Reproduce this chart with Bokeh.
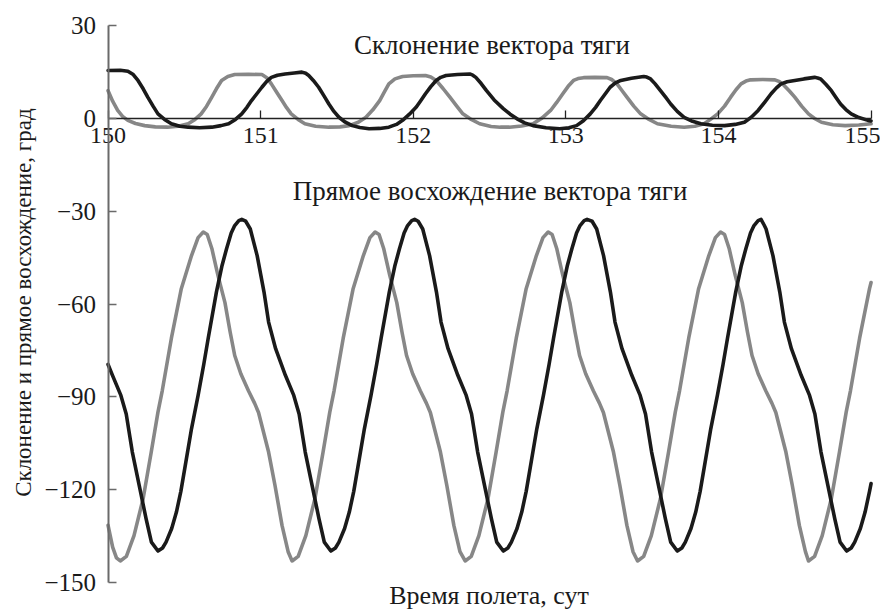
import math
from bokeh.plotting import figure
from bokeh.models import LinearAxis, FixedTicker, Label, Range1d
from bokeh.embed import file_html
from bokeh.resources import INLINE

# ---------------- data ----------------
x_ticks = [150, 151, 152, 153, 154, 155]
y_ticks = [30, 0, -30, -60, -90, -120, -150]
y_tick_labels = ["30", "0", "\u221230", "\u221260", "\u221290", "\u2212120", "\u2212150"]

x_title = "Время полета, сут"
y_title = "Склонение и прямое восхождение, град"
note_dec = "Склонение вектора тяги"
note_ra = "Прямое восхождение вектора тяги"

# Declination, black
dec_black_x = [150.0, 150.08, 150.13, 150.165, 150.196, 150.23, 150.26, 150.295, 150.327, 150.37, 150.415, 150.47,
               150.525, 150.6, 150.68, 150.74, 150.79, 150.835, 150.876, 150.91, 150.94, 150.975, 151.008, 151.04,
               151.07, 151.11, 151.16, 151.22, 151.27, 151.295, 151.315, 151.345, 151.38, 151.415, 151.447, 151.48,
               151.513, 151.555, 151.6, 151.65, 151.71, 151.78, 151.84, 151.89, 151.93, 151.975, 152.02, 152.05,
               152.08, 152.115, 152.15, 152.18, 152.215, 152.29, 152.37, 152.39, 152.41, 152.445, 152.48, 152.53,
               152.59, 152.635, 152.68, 152.73, 152.785, 152.87, 152.96, 153.02, 153.07, 153.115, 153.16, 153.195,
               153.226, 153.26, 153.29, 153.325, 153.36, 153.43, 153.51, 153.53, 153.555, 153.585, 153.62, 153.655,
               153.687, 153.73, 153.775, 153.83, 153.885, 153.96, 154.04, 154.11, 154.17, 154.215, 154.26, 154.305,
               154.345, 154.38, 154.41, 154.45, 154.5, 154.56, 154.63, 154.65, 154.67, 154.705, 154.74, 154.77,
               154.8, 154.835, 154.87, 154.92, 154.98, 155.0]
dec_black_y = [15.5, 15.6, 15.3, 14.2, 12.3, 9.6, 6.9, 4.0, 1.5, -0.3, -1.7, -2.5,
               -2.8, -3.0, -2.8, -2.3, -1.7, -0.3, 1.5, 3.6, 5.8, 8.0, 10.1, 12.0,
               13.3, 14.0, 14.4, 14.7, 15.0, 14.6, 13.9, 12.3, 10.1, 7.3, 4.7, 2.3,
               0.4, -1.2, -2.3, -2.9, -3.3, -3.2, -2.8, -1.9, -0.6, 1.4, 3.7, 5.8,
               8.0, 10.3, 12.3, 13.3, 13.9, 14.2, 14.4, 14.0, 13.3, 11.3, 9.0, 6.0,
               3.2, 1.4, -0.1, -1.4, -2.3, -3.0, -3.3, -3.0, -2.3, -0.7, 1.5, 3.6,
               5.8, 8.1, 10.1, 11.5, 12.3, 13.0, 13.6, 13.4, 12.8, 11.2, 9.0, 6.8,
               4.7, 2.3, 0.4, -0.9, -1.7, -2.2, -2.3, -1.9, -1.2, 0.4, 2.6, 5.4,
               8.0, 9.9, 11.2, 11.9, 12.3, 12.8, 13.3, 13.1, 12.8, 11.0, 9.0, 6.8,
               4.7, 2.9, 1.5, 0.3, -0.6, -0.8]

# Declination, grey
dec_gray_x = [150.0, 150.03, 150.063, 150.095, 150.13, 150.18, 150.24, 150.31, 150.39, 150.46, 150.525, 150.57,
              150.61, 150.645, 150.68, 150.71, 150.744, 150.785, 150.83, 150.92, 151.008, 151.04, 151.07, 151.105,
              151.14, 151.17, 151.2, 151.245, 151.29, 151.36, 151.447, 151.52, 151.58, 151.64, 151.69, 151.735,
              151.78, 151.81, 151.84, 151.88, 151.93, 152.0, 152.08, 152.115, 152.15, 152.195, 152.24, 152.285,
              152.325, 152.38, 152.435, 152.51, 152.57, 152.63, 152.71, 152.785, 152.845, 152.9, 152.94, 152.98,
              153.015, 153.05, 153.08, 153.116, 153.19, 153.27, 153.3, 153.335, 153.365, 153.4, 153.445, 153.49,
              153.545, 153.6, 153.69, 153.775, 153.845, 153.906, 153.95, 153.995, 154.04, 154.08, 154.115, 154.148,
              154.18, 154.21, 154.29, 154.37, 154.4, 154.43, 154.465, 154.5, 154.545, 154.59, 154.63, 154.675,
              154.75, 154.83, 154.92, 155.0]
dec_gray_y = [9.0, 5.6, 2.6, 0.7, -0.6, -1.6, -2.3, -2.7, -2.8, -2.5, -1.7, -0.3,
              1.5, 3.9, 6.9, 9.6, 12.3, 13.6, 14.2, 14.3, 14.2, 13.2, 11.2, 8.5,
              5.8, 3.5, 1.5, -0.3, -1.7, -2.5, -2.8, -2.7, -2.3, -1.2, 0.4, 2.8,
              5.8, 8.5, 11.2, 12.8, 13.6, 13.8, 13.9, 13.4, 12.3, 9.7, 6.9, 4.0,
              1.5, -0.3, -1.7, -2.6, -2.8, -2.8, -2.4, -1.7, 0.2, 2.6, 5.2, 8.0,
              10.4, 12.3, 12.9, 13.2, 13.3, 13.2, 12.6, 11.2, 9.2, 6.9, 4.0, 1.5,
              -0.3, -1.7, -2.5, -2.8, -2.5, -1.7, -0.2, 1.5, 4.0, 6.9, 9.3, 11.2,
              12.1, 12.5, 12.6, 12.5, 11.9, 10.7, 8.9, 6.9, 4.0, 1.5, 0.0, -1.2,
              -2.0, -2.3, -2.1, -1.7]

# Right ascension, black
ra_black_x = [150.0, 150.029, 150.084, 150.119, 150.159, 150.204, 150.249, 150.284, 150.327, 150.357, 150.38, 150.417,
              150.448, 150.477, 150.503, 150.547, 150.59, 150.627, 150.656, 150.71, 150.747, 150.777, 150.807, 150.83,
              150.857, 150.876, 150.902, 150.932, 150.977, 151.022, 151.052, 151.098, 151.162, 151.217, 151.252,
              151.292, 151.337, 151.382, 151.417, 151.46, 151.49, 151.513, 151.55, 151.581, 151.61, 151.636, 151.68,
              151.723, 151.76, 151.789, 151.843, 151.88, 151.91, 151.94, 151.963, 151.99, 152.009, 152.032, 152.062,
              152.107, 152.152, 152.182, 152.228, 152.292, 152.347, 152.382, 152.422, 152.467, 152.512, 152.547,
              152.59, 152.62, 152.643, 152.68, 152.711, 152.74, 152.766, 152.81, 152.853, 152.89, 152.919, 152.973,
              153.01, 153.04, 153.07, 153.093, 153.12, 153.139, 153.172, 153.202, 153.247, 153.292, 153.322, 153.368,
              153.432, 153.487, 153.522, 153.562, 153.607, 153.652, 153.687, 153.73, 153.76, 153.783, 153.82, 153.851,
              153.88, 153.906, 153.95, 153.993, 154.03, 154.059, 154.113, 154.15, 154.18, 154.21, 154.233, 154.26,
              154.279, 154.3, 154.312, 154.357, 154.402, 154.432, 154.478, 154.542, 154.597, 154.632, 154.672,
              154.717, 154.762, 154.797, 154.84, 154.87, 154.893, 154.93, 154.961, 154.99, 155.0]
ra_black_y = [-79.5, -83.0, -89.5, -95.5, -107.8, -118.6, -129.3, -136.9, -139.8, -138.8, -136.9, -132.5,
              -127.2, -120.5, -113.0, -100.2, -89.5, -79.5, -71.1, -56.1, -47.5, -42.0, -37.0, -34.6,
              -33.0, -32.6, -33.2, -35.7, -44.3, -56.1, -65.8, -74.4, -83.0, -89.5, -95.5,
              -107.8, -118.6, -129.3, -136.9, -139.8, -138.8, -136.9, -132.5, -127.2, -120.5, -113.0, -100.2,
              -89.5, -79.5, -71.1, -56.1, -47.5, -42.0, -37.0, -34.6, -33.0, -32.6, -33.2, -35.7,
              -44.3, -56.1, -65.8, -74.4, -83.0, -89.5, -95.5, -107.8, -118.6, -129.3, -136.9,
              -139.8, -138.8, -136.9, -132.5, -127.2, -120.5, -113.0, -100.2, -89.5, -79.5, -71.1, -56.1,
              -47.5, -42.0, -37.0, -34.6, -33.0, -32.6, -33.2, -35.7, -44.3, -56.1, -65.8, -74.4,
              -83.0, -89.5, -95.5, -107.8, -118.6, -129.3, -136.9, -139.8, -138.8, -136.9, -132.5, -127.2,
              -120.5, -113.0, -100.2, -89.5, -79.5, -71.1, -56.1, -47.5, -42.0, -37.0, -34.6, -33.0,
              -32.6, -34.5, -35.7, -44.3, -56.1, -65.8, -74.4, -83.0, -89.5, -95.5, -107.8,
              -118.6, -129.3, -136.9, -139.8, -138.8, -136.9, -132.5, -127.2, -120.5, -118.0]

# Right ascension, grey
ra_gray_x = [150.0, 150.03, 150.055, 150.08, 150.12, 150.17, 150.23, 150.283, 150.327, 150.355, 150.415, 150.48,
             150.547, 150.59, 150.624, 150.65, 150.68, 150.72, 150.766, 150.8, 150.83, 150.87, 150.92, 150.96,
             150.986, 151.052, 151.094, 151.14, 151.18, 151.206,
             151.246, 151.296, 151.356, 151.409, 151.453, 151.481, 151.541, 151.606, 151.673, 151.716, 151.75,
             151.776, 151.806, 151.846, 151.892, 151.926, 151.956, 151.996, 152.046, 152.086, 152.112, 152.178,
             152.22, 152.266, 152.306, 152.34,
             152.38, 152.43, 152.49, 152.543, 152.587, 152.615, 152.675, 152.74, 152.807, 152.85, 152.884,
             152.91, 152.94, 152.98, 153.026, 153.06, 153.09, 153.13, 153.18, 153.22, 153.246, 153.312,
             153.354, 153.4, 153.44, 153.47,
             153.51, 153.56, 153.62, 153.673, 153.717, 153.745, 153.805, 153.87, 153.937, 153.98, 154.014,
             154.04, 154.07, 154.11, 154.156, 154.19, 154.22, 154.26, 154.31, 154.35, 154.376, 154.442,
             154.484, 154.53, 154.57, 154.59,
             154.63, 154.68, 154.74, 154.793, 154.837, 154.865, 154.925, 154.99, 155.0]
ra_gray_y = [-131.5, -138.5, -142.0, -143.0, -141.5, -134.8, -122.8, -107.8, -94.9, -88.0, -71.0, -55.0,
             -44.3, -38.5, -36.7, -37.5, -42.0, -50.7, -59.5, -69.0, -76.6, -82.5, -88.0, -92.0,
             -95.0, -107.8, -118.6, -131.5, -140.0, -143.0,
             -141.5, -134.8, -122.8, -107.8, -94.9, -88.0, -71.0, -55.0, -44.3, -38.5, -36.7,
             -37.5, -42.0, -50.7, -59.5, -69.0, -76.6, -82.5, -88.0, -92.0, -95.0, -107.8,
             -118.6, -131.5, -140.0, -143.0,
             -141.5, -134.8, -122.8, -107.8, -94.9, -88.0, -71.0, -55.0, -44.3, -38.5, -36.7,
             -37.5, -42.0, -50.7, -59.5, -69.0, -76.6, -82.5, -88.0, -92.0, -95.0, -107.8,
             -118.6, -131.5, -140.0, -143.0,
             -141.5, -134.8, -122.8, -107.8, -94.9, -88.0, -71.0, -55.0, -44.3, -38.5, -36.7,
             -37.5, -42.0, -50.7, -59.5, -69.0, -76.6, -82.5, -88.0, -92.0, -95.0, -107.8,
             -118.6, -131.5, -140.0, -143.0,
             -141.5, -134.8, -122.8, -107.8, -94.9, -88.0, -71.0, -55.0, -53.0]

# ---------------- styling ----------------
FONT = "Liberation Serif"
TXT = "#1a1a1a"
BLACK = "#1a1a1a"
GREY = "#878787"
LW = 3.6

W, H = 880, 613
# frame covers the whole canvas; axes are pinned at x=150 and y=0
p = figure(width=W, height=H,
           x_range=Range1d(149.2951, 155.0619), y_range=Range1d(-159.98, 38.14),
           output_backend="svg", toolbar_location=None,
           x_axis_location=None, y_axis_location=None)
p.min_border = 0
p.min_border_left = 0
p.min_border_right = 0
p.min_border_top = 0
p.min_border_bottom = 0
p.grid.visible = False
p.outline_line_color = None
p.background_fill_color = "white"
p.border_fill_color = "white"

# y axis at x = 150
yaxis = LinearAxis(ticker=FixedTicker(ticks=y_ticks), fixed_location=150, bounds=(-150, 30),
                   major_label_overrides={t: l for t, l in zip(y_ticks, y_tick_labels)})
yaxis.axis_line_color = "#6a6a6a"
yaxis.axis_line_width = 2
yaxis.major_tick_line_color = "#6a6a6a"
yaxis.major_tick_line_width = 1.5
yaxis.major_tick_in = 8
yaxis.major_tick_out = 0
yaxis.minor_tick_line_color = None
yaxis.major_label_standoff = 12
yaxis.major_label_text_font = FONT
yaxis.major_label_text_font_size = "25px"
yaxis.major_label_text_color = TXT
p.add_layout(yaxis, "left")

# x axis through y = 0
xaxis = LinearAxis(ticker=FixedTicker(ticks=x_ticks), fixed_location=0, bounds=(150, 155))
xaxis.axis_line_color = "#222222"
xaxis.axis_line_width = 1.3
xaxis.major_tick_line_color = "#222222"
xaxis.major_tick_line_width = 1.3
xaxis.major_tick_in = 8
xaxis.major_tick_out = 0
xaxis.minor_tick_line_color = None
xaxis.major_label_standoff = 9
xaxis.major_label_text_font = FONT
xaxis.major_label_text_font_size = "24px"
xaxis.major_label_text_color = TXT
p.add_layout(xaxis, "below")

# curves
p.line(ra_gray_x, ra_gray_y, line_color=GREY, line_width=LW, line_join="round", line_cap="round")
p.line(dec_gray_x, dec_gray_y, line_color=GREY, line_width=LW, line_join="round", line_cap="round")
p.line(ra_black_x, ra_black_y, line_color=BLACK, line_width=LW, line_join="round", line_cap="round")
p.line(dec_black_x, dec_black_y, line_color=BLACK, line_width=LW, line_join="round", line_cap="round")

# texts
p.add_layout(Label(x=152.516, y=23.6, text=note_dec, text_align="center", text_baseline="middle",
                   text_font=FONT, text_font_size="27px", text_color=TXT))
p.add_layout(Label(x=152.503, y=-23.3, text=note_ra, text_align="center", text_baseline="middle",
                   text_font=FONT, text_font_size="27px", text_color=TXT))
p.add_layout(Label(x=152.497, y=-154.3, text=x_title, text_align="center", text_baseline="middle",
                   text_font=FONT, text_font_size="26px", text_color=TXT))
p.add_layout(Label(x=149.447, y=-59.5, text=y_title, angle=math.pi / 2, text_align="center",
                   text_baseline="middle", text_font=FONT, text_font_size="23px", text_color=TXT))

open("out.html", "w").write(file_html(p, INLINE))
